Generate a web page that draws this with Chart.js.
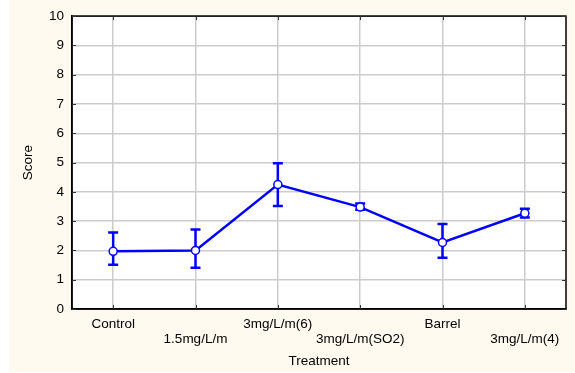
<!DOCTYPE html>
<html>
<head>
<meta charset="utf-8">
<script src="https://cdn.jsdelivr.net/npm/chart.js@4/dist/chart.umd.min.js"></script>
<style>
  body { margin: 0; background: #ffffff; }
  #wrap { width: 575px; height: 373px; }
</style>
</head>
<body>
<div id="wrap"><canvas id="scoreChart" width="575" height="373"></canvas></div>
<script>
// Datos
const treatments = ['Control', '1.5mg/L/m', '3mg/L/m(6)', '3mg/L/m(SO2)', 'Barrel', '3mg/L/m(4)'];
const meanScore = [1.97, 2.0, 4.25, 3.48, 2.27, 3.27];
const lowScore = [1.51, 1.41, 3.52, 3.39, 1.75, 3.12];
const highScore = [2.61, 2.71, 4.98, 3.60, 2.90, 3.42];
const yTicks = [0, 1, 2, 3, 4, 5, 6, 7, 8, 9, 10];

const blue = '#0000ff';
const font = { family: '"Liberation Sans", Arial, sans-serif', size: 13.5 };

// Fondo crema con franja blanca a la izquierda
const fondo = {
    id: 'fondo',
    beforeDraw(chart) {
        const ctx = chart.ctx;
        ctx.save();
        ctx.fillStyle = '#ffffff';
        ctx.fillRect(0, 0, chart.width, chart.height);
        ctx.fillStyle = '#fffaf0';
        ctx.fillRect(9, 0, chart.width - 9, chart.height - 1);
        const a = chart.chartArea;
        ctx.fillStyle = '#ffffff';
        ctx.fillRect(a.left, a.top, a.right - a.left, a.bottom - a.top);
        ctx.restore();
    }
};

// Barras de error (dibujadas antes de la serie para que los puntos queden encima)
const barrasError = {
    id: 'barrasError',
    beforeDatasetsDraw(chart) {
        const ctx = chart.ctx;
        const x = chart.scales.x;
        const y = chart.scales.y;
        ctx.save();
        ctx.strokeStyle = blue;
        ctx.lineWidth = 2.5;
        treatments.forEach((t, i) => {
            const px = x.getPixelForValue(i);
            const top = y.getPixelForValue(highScore[i]);
            const bot = y.getPixelForValue(lowScore[i]);
            ctx.beginPath();
            ctx.moveTo(px, top); ctx.lineTo(px, bot);
            ctx.moveTo(px - 5, top); ctx.lineTo(px + 5, top);
            ctx.moveTo(px - 5, bot); ctx.lineTo(px + 5, bot);
            ctx.stroke();
        });
        ctx.restore();
    },
    afterDraw(chart) {
        // marco negro y marcas interiores
        const ctx = chart.ctx;
        const a = chart.chartArea;
        const x = chart.scales.x;
        const y = chart.scales.y;
        ctx.save();
        ctx.strokeStyle = '#000000';
        ctx.lineWidth = 1.5;
        ctx.strokeRect(a.left, a.top, a.right - a.left, a.bottom - a.top);
        ctx.lineWidth = 1;
        ctx.strokeStyle = '#333333';
        ctx.beginPath();
        yTicks.forEach(v => {
            const py = Math.round(y.getPixelForValue(v)) + 0.5;
            ctx.moveTo(a.left, py); ctx.lineTo(a.left + 4, py);
            ctx.moveTo(a.right, py); ctx.lineTo(a.right - 4, py);
        });
        treatments.forEach((t, i) => {
            const px = Math.round(x.getPixelForValue(i)) + 0.5;
            ctx.moveTo(px, a.top); ctx.lineTo(px, a.top + 4);
            ctx.moveTo(px, a.bottom); ctx.lineTo(px, a.bottom - 4);
        });
        ctx.stroke();
        ctx.restore();
    }
};

const ctx = document.getElementById('scoreChart').getContext('2d');
new Chart(ctx, {
    type: 'line',
    data: {
        labels: treatments,
        datasets: [{
            label: 'Score',
            data: meanScore,
            borderColor: blue,
            borderWidth: 2.5,
            backgroundColor: '#ffffff',
            pointBackgroundColor: '#ffffff',
            pointBorderColor: blue,
            pointBorderWidth: 1.5,
            pointRadius: 4,
            tension: 0
        }]
    },
    options: {
        responsive: false,
        animation: false,
        layout: { padding: { left: 20, top: 15, right: 9, bottom: 0 } },
        plugins: {
            legend: { display: false },
            tooltip: { enabled: false }
        },
        scales: {
            x: {
                type: 'category',
                offset: true,
                grid: { offset: false, color: '#cccccc', lineWidth: 1.5, drawTicks: false },
                border: { color: '#000000', width: 1.5 },
                ticks: {
                    color: '#000000',
                    font: { ...font, lineHeight: 1.1 },
                    padding: 8,
                    maxRotation: 0,
                    autoSkip: false,
                    callback: function (val, i) {
                        return i % 2 === 0 ? [treatments[i], ''] : ['', treatments[i]];
                    }
                },
                title: { display: true, text: 'Treatment', color: '#000000', font: font, padding: { top: 0, bottom: 4 } },
                afterFit: s => { s.height = 373 - 309; }
            },
            y: {
                min: 0,
                max: 10,
                grid: { color: '#cccccc', lineWidth: 1.5, drawTicks: false },
                border: { color: '#000000', width: 1.5 },
                afterBuildTicks: s => { s.ticks = yTicks.map(v => ({ value: v })); },
                ticks: { color: '#000000', font: font, padding: 8 },
                title: { display: true, text: 'Score', color: '#000000', font: font, padding: 0 },
                afterFit: s => { s.width = 72 - 20; }
            }
        }
    },
    plugins: [fondo, barrasError]
});
</script>
</body>
</html>
